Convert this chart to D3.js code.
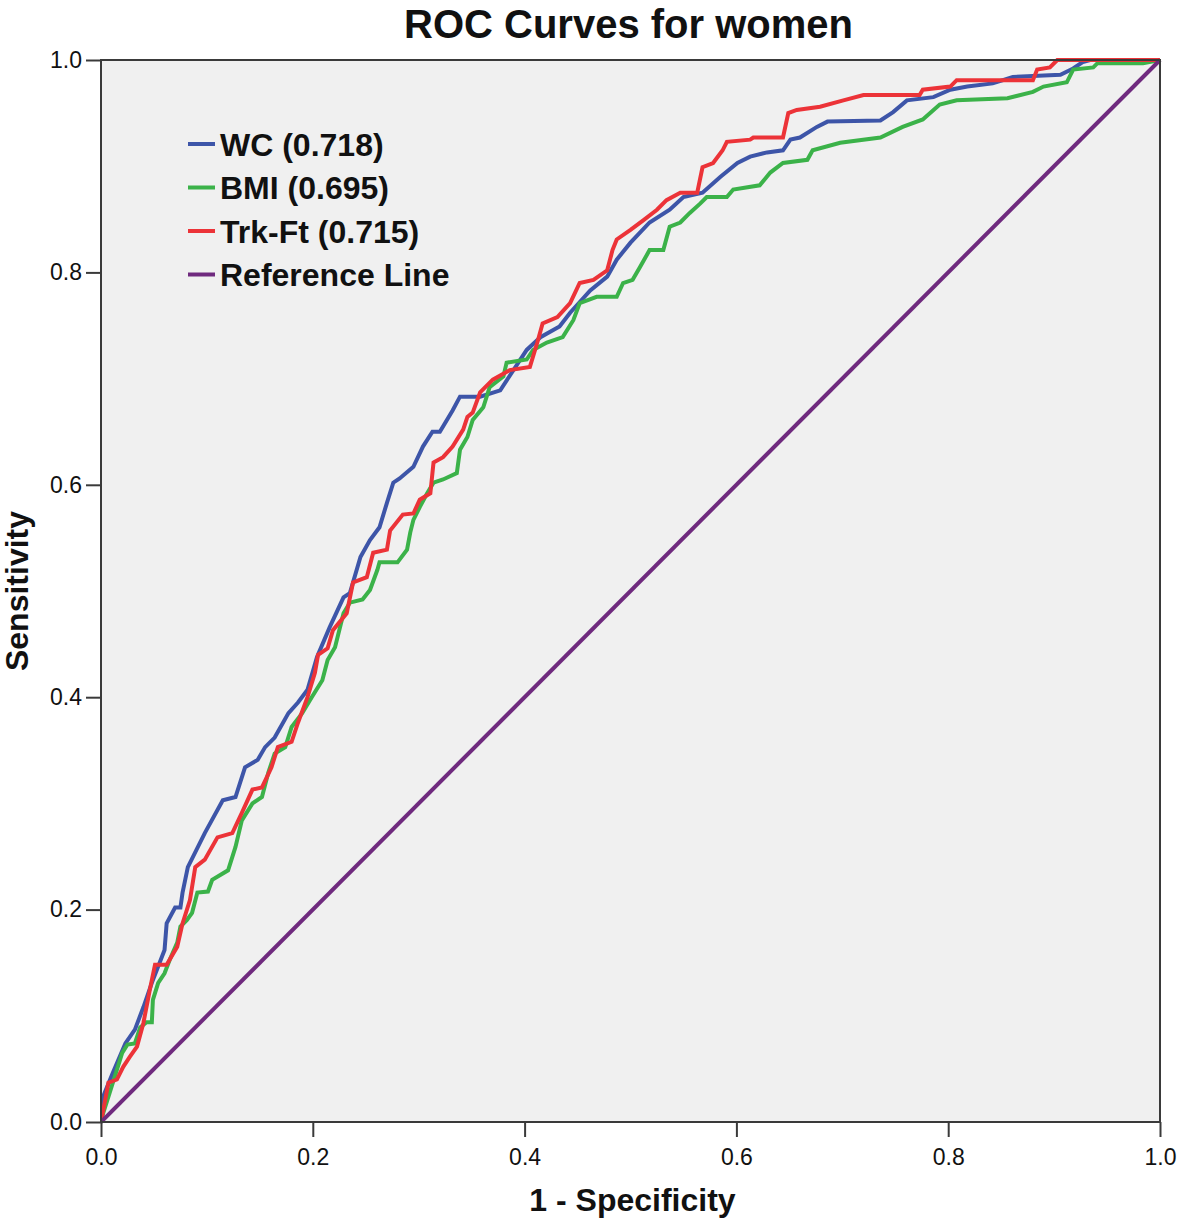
<!DOCTYPE html>
<html>
<head>
<meta charset="utf-8">
<script src="https://cdnjs.cloudflare.com/ajax/libs/d3/7.8.5/d3.min.js"></script>
<style>
  html, body { margin: 0; padding: 0; background: #ffffff; }
  svg { display: block; }
</style>
</head>
<body>
<svg id="chart" width="1181" height="1223"></svg>
<script>
// ---------- data ----------
const chartTitle = "ROC Curves for women";
const xAxisTitle = "1 - Specificity";
const yAxisTitle = "Sensitivity";
const tickValues = [0, 0.2, 0.4, 0.6, 0.8, 1.0];
const tickLabels = ["0.0", "0.2", "0.4", "0.6", "0.8", "1.0"];

const seriesNames = ["WC (0.718)", "BMI (0.695)", "Trk-Ft (0.715)", "Reference Line"];

// WC: [1 - specificity, sensitivity]
const wcPoints = [
  [0,0],[0,0.016],[0.002,0.024],[0.011,0.046],[0.023,0.074],[0.032,0.087],[0.040,0.108],
  [0.048,0.131],[0.060,0.162],[0.062,0.187],[0.070,0.202],[0.075,0.202],[0.077,0.216],
  [0.082,0.240],[0.098,0.272],[0.115,0.303],[0.127,0.306],[0.136,0.334],[0.148,0.341],
  [0.155,0.353],[0.164,0.362],[0.177,0.385],[0.186,0.395],[0.195,0.407],[0.204,0.438],
  [0.216,0.466],[0.229,0.494],[0.235,0.498],[0.245,0.532],[0.254,0.548],[0.263,0.560],
  [0.270,0.583],[0.276,0.602],[0.282,0.606],[0.295,0.617],[0.304,0.636],[0.313,0.650],
  [0.320,0.650],[0.332,0.670],[0.339,0.683],[0.358,0.683],[0.377,0.689],[0.402,0.727],
  [0.415,0.739],[0.433,0.749],[0.443,0.762],[0.462,0.783],[0.478,0.796],[0.487,0.812],
  [0.500,0.828],[0.518,0.847],[0.537,0.859],[0.550,0.871],[0.568,0.875],[0.585,0.890],
  [0.601,0.903],[0.613,0.909],[0.629,0.913],[0.644,0.915],[0.651,0.925],[0.660,0.927],
  [0.676,0.937],[0.686,0.942],[0.736,0.943],[0.748,0.951],[0.761,0.962],[0.786,0.965],
  [0.802,0.972],[0.818,0.975],[0.842,0.978],[0.861,0.984],[0.906,0.986],[0.918,0.992],
  [0.927,0.998],[0.934,1.0],[1,1]
];

// BMI
const bmiPoints = [
  [0,0],[0.002,0.008],[0.008,0.027],[0.015,0.049],[0.020,0.065],[0.025,0.073],[0.032,0.074],
  [0.037,0.089],[0.043,0.094],[0.048,0.094],[0.049,0.115],[0.054,0.131],[0.060,0.140],
  [0.065,0.153],[0.072,0.169],[0.075,0.184],[0.081,0.190],[0.086,0.197],[0.091,0.216],
  [0.101,0.217],[0.105,0.228],[0.120,0.237],[0.127,0.259],[0.133,0.284],[0.143,0.300],
  [0.152,0.306],[0.158,0.329],[0.164,0.347],[0.174,0.353],[0.180,0.372],[0.190,0.385],
  [0.199,0.400],[0.209,0.416],[0.214,0.435],[0.221,0.447],[0.229,0.479],[0.235,0.489],
  [0.247,0.492],[0.254,0.501],[0.261,0.520],[0.263,0.527],[0.280,0.527],[0.289,0.539],
  [0.292,0.555],[0.295,0.567],[0.301,0.579],[0.308,0.592],[0.314,0.602],[0.323,0.605],
  [0.336,0.611],[0.339,0.633],[0.346,0.645],[0.351,0.661],[0.361,0.673],[0.367,0.692],
  [0.380,0.702],[0.383,0.715],[0.402,0.718],[0.408,0.727],[0.421,0.734],[0.436,0.739],
  [0.446,0.755],[0.452,0.771],[0.468,0.777],[0.487,0.777],[0.493,0.790],[0.502,0.793],
  [0.509,0.805],[0.518,0.821],[0.531,0.821],[0.537,0.843],[0.547,0.847],[0.556,0.856],
  [0.566,0.865],[0.572,0.871],[0.591,0.871],[0.597,0.878],[0.622,0.882],[0.632,0.894],
  [0.644,0.903],[0.667,0.906],[0.672,0.915],[0.698,0.922],[0.736,0.927],[0.757,0.937],
  [0.776,0.944],[0.792,0.958],[0.808,0.962],[0.856,0.964],[0.880,0.970],[0.890,0.975],
  [0.912,0.979],[0.918,0.991],[0.937,0.993],[0.941,0.997],[0.984,0.997],[1,1]
];

// Trk-Ft
const trkPoints = [
  [0,0],[0.001,0.005],[0.007,0.037],[0.015,0.040],[0.021,0.052],[0.027,0.061],[0.034,0.071],
  [0.040,0.093],[0.046,0.124],[0.051,0.148],[0.062,0.148],[0.072,0.165],[0.077,0.187],
  [0.084,0.209],[0.089,0.240],[0.098,0.247],[0.110,0.268],[0.124,0.272],[0.133,0.291],
  [0.143,0.313],[0.152,0.315],[0.161,0.334],[0.167,0.353],[0.180,0.358],[0.186,0.376],
  [0.195,0.400],[0.202,0.423],[0.205,0.440],[0.214,0.446],[0.219,0.463],[0.232,0.479],
  [0.238,0.508],[0.251,0.513],[0.257,0.536],[0.270,0.539],[0.273,0.557],[0.285,0.572],
  [0.295,0.573],[0.301,0.586],[0.311,0.592],[0.314,0.621],[0.323,0.626],[0.332,0.636],
  [0.342,0.652],[0.346,0.664],[0.351,0.668],[0.358,0.687],[0.370,0.699],[0.386,0.708],
  [0.405,0.711],[0.412,0.734],[0.417,0.752],[0.431,0.758],[0.443,0.771],[0.452,0.790],
  [0.465,0.793],[0.478,0.802],[0.483,0.821],[0.487,0.831],[0.500,0.840],[0.512,0.849],
  [0.525,0.859],[0.534,0.868],[0.547,0.875],[0.563,0.875],[0.568,0.899],[0.578,0.903],
  [0.587,0.915],[0.591,0.923],[0.613,0.925],[0.616,0.927],[0.644,0.927],[0.649,0.950],
  [0.657,0.953],[0.679,0.956],[0.701,0.962],[0.720,0.967],[0.773,0.967],[0.776,0.972],
  [0.802,0.975],[0.808,0.981],[0.880,0.981],[0.884,0.991],[0.896,0.993],[0.903,1.0],[1,1]
];

const refPoints = [[0,0],[1,1]];

// ---------- layout & style ----------
const W = 1181, H = 1223;
const plot = { left: 101, right: 1160, top: 60, bottom: 1122 };
const colors = ["#3d55a8", "#3bb249", "#ec3338", "#6f2a7e"];
const fontFam = "'Liberation Sans', Arial, Helvetica, sans-serif";

const svg = d3.select("#chart");
svg.append("rect").attr("width", W).attr("height", H).attr("fill", "#ffffff");

const x = d3.scaleLinear().domain([0, 1]).range([plot.left, plot.right]);
const y = d3.scaleLinear().domain([0, 1]).range([plot.bottom, plot.top]);

// plot background
svg.append("rect")
  .attr("x", plot.left).attr("y", plot.top)
  .attr("width", plot.right - plot.left).attr("height", plot.bottom - plot.top)
  .attr("fill", "#f0f0f0");

// clip
svg.append("clipPath").attr("id", "clip")
  .append("rect")
  .attr("x", plot.left).attr("y", plot.top - 2)
  .attr("width", plot.right - plot.left + 2).attr("height", plot.bottom - plot.top + 4);

const line = d3.line().x(d => x(d[0])).y(d => y(d[1])).curve(d3.curveLinear);

const allSeries = [wcPoints, bmiPoints, trkPoints, refPoints];
const g = svg.append("g").attr("clip-path", "url(#clip)");
allSeries.forEach((pts, i) => {
  g.append("path")
    .datum(pts)
    .attr("d", line)
    .attr("fill", "none")
    .attr("stroke", colors[i])
    .attr("stroke-width", 4)
    .attr("stroke-linejoin", "miter")
    .attr("stroke-linecap", "butt");
});

// frame
svg.append("rect")
  .attr("x", plot.left).attr("y", plot.top)
  .attr("width", plot.right - plot.left).attr("height", plot.bottom - plot.top)
  .attr("fill", "none").attr("stroke", "#3a3a3a").attr("stroke-width", 2);

// axes
const xAxis = d3.axisBottom(x).tickValues(tickValues)
  .tickFormat((d, i) => tickLabels[i]).tickSize(15).tickPadding(8);
const yAxis = d3.axisLeft(y).tickValues(tickValues)
  .tickFormat((d, i) => tickLabels[i]).tickSize(15).tickPadding(4);

const gx = svg.append("g").attr("transform", `translate(0,${plot.bottom})`).call(xAxis);
const gy = svg.append("g").attr("transform", `translate(${plot.left},0)`).call(yAxis);
[gx, gy].forEach(ax => {
  ax.select(".domain").remove();
  ax.selectAll(".tick line").attr("stroke", "#3a3a3a").attr("stroke-width", 2);
  ax.selectAll(".tick text")
    .attr("fill", "#111")
    .style("font-family", fontFam)
    .style("font-size", "23px");
});
gx.selectAll(".tick text").attr("dy", "0.85em");

// titles
svg.append("text")
  .attr("x", (plot.left + plot.right) / 2 - 2).attr("y", 38)
  .attr("text-anchor", "middle")
  .style("font-family", fontFam).style("font-weight", "bold").style("font-size", "40px")
  .attr("fill", "#111")
  .text(chartTitle);

svg.append("text")
  .attr("x", (plot.left + plot.right) / 2 + 2).attr("y", 1211)
  .attr("text-anchor", "middle")
  .style("font-family", fontFam).style("font-weight", "bold").style("font-size", "32px")
  .attr("fill", "#111")
  .text(xAxisTitle);

svg.append("text")
  .attr("transform", `translate(28,${(plot.top + plot.bottom) / 2}) rotate(-90)`)
  .attr("text-anchor", "middle")
  .style("font-family", fontFam).style("font-weight", "bold").style("font-size", "32px")
  .attr("fill", "#111")
  .text(yAxisTitle);

// legend
const legend = svg.append("g");
const legendTop = 144, legendStep = 43.5;
seriesNames.forEach((name, i) => {
  const cy = legendTop + i * legendStep;
  legend.append("line")
    .attr("x1", 188).attr("x2", 215).attr("y1", cy).attr("y2", cy)
    .attr("stroke", colors[i]).attr("stroke-width", 4);
  legend.append("text")
    .attr("x", 220).attr("y", cy + 11.5)
    .style("font-family", fontFam).style("font-weight", "bold").style("font-size", "32px")
    .attr("fill", "#111")
    .text(name);
});
</script>
</body>
</html>
